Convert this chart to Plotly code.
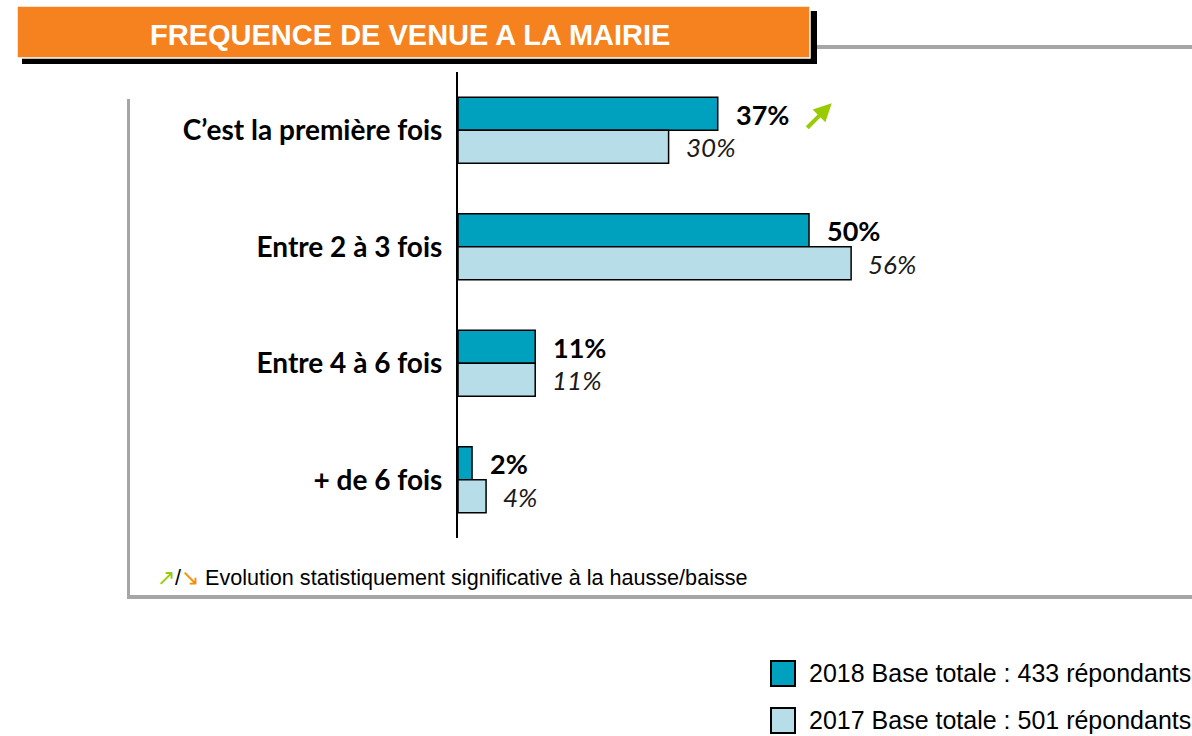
import plotly.graph_objects as go

# ---------------- data ----------------
title_text = "FREQUENCE DE VENUE A LA MAIRIE"
categories = ["C’est la première fois", "Entre 2 à 3 fois", "Entre 4 à 6 fois", "+ de 6 fois"]
values_2018 = [37, 50, 11, 2]
values_2017 = [30, 56, 11, 4]
series_names = ["2018 Base totale : 433 répondants", "2017 Base totale : 501 répondants"]
significant_up = [True, False, False, False]
footnote_text = "Evolution statistiquement significative à la hausse/baisse"

# ---------------- helpers ----------------
W, H = 1192, 736


def px(x):
    return x / W


def py(y):
    return 1 - y / H


C18 = "#00A0BF"
C17 = "#B7DEE8"
ORANGE = "#F5821F"
GREY = "#A6A6A6"
GREEN = "#99CC00"
ORANGE_ARROW = "#F39200"
LABEL_FONT = "Lato"
ARIAL = "Liberation Sans"

fig = go.Figure()
fig.add_trace(go.Bar(
    y=categories, x=values_2018, orientation="h", name=series_names[0],
    marker=dict(color=C18, line=dict(color="black", width=1.5)),
    showlegend=False, hoverinfo="x+y",
))
fig.add_trace(go.Bar(
    y=categories, x=values_2017, orientation="h", name=series_names[1],
    marker=dict(color=C17, line=dict(color="black", width=1.5)),
    showlegend=False, hoverinfo="x+y",
))

annotations = []
for cat, v in zip(categories, values_2018):
    annotations.append(dict(
        x=v, y=cat, xref="x", yref="y", text=f"<b>{v}%</b>", showarrow=False,
        xanchor="left", yanchor="middle", xshift=16, yshift=16,
        font=dict(family=LABEL_FONT, size=27, color="black"),
    ))
for cat, v in zip(categories, values_2017):
    annotations.append(dict(
        x=v, y=cat, xref="x", yref="y", text=f"<i>{v}%</i>", showarrow=False,
        xanchor="left", yanchor="middle", xshift=15, yshift=-17,
        font=dict(family=LABEL_FONT, size=26, color="#1a1a1a"),
    ))
# significance arrows
for cat, v, up in zip(categories, values_2018, significant_up):
    if up:
        annotations.append(dict(
            x=v, y=cat, xref="x", yref="y", text="", showarrow=True,
            xshift=114, yshift=27, ax=-26, ay=26, axref="pixel", ayref="pixel",
            arrowhead=2, arrowsize=0.9, arrowwidth=4, arrowcolor=GREEN, standoff=0,
        ))

# title
annotations.append(dict(
    x=px(410), y=py(35), xref="paper", yref="paper", text=f"<b>{title_text}</b>",
    showarrow=False, xanchor="center", yanchor="middle",
    font=dict(family=ARIAL, size=29, color="white"),
))
# footnote
annotations.append(dict(
    x=px(155), y=py(577), xref="paper", yref="paper",
    text=f'<span style="color:{GREEN}">↗</span>/<span style="color:{ORANGE_ARROW}">↘</span> {footnote_text}',
    showarrow=False, xanchor="left", yanchor="middle",
    font=dict(family=ARIAL, size=21.6, color="black"),
))
# legend texts
for name, yc in zip(series_names, [673, 720]):
    annotations.append(dict(
        x=px(807), y=py(yc), xref="paper", yref="paper", text=name,
        showarrow=False, xanchor="left", yanchor="middle",
        font=dict(family=ARIAL, size=25, color="black"),
    ))

shapes = [
    # banner shadow
    dict(type="rect", xref="paper", yref="paper", x0=px(22), x1=px(817), y0=py(64), y1=py(11),
         fillcolor="black", line=dict(width=0), layer="below"),
    # grey rule
    dict(type="rect", xref="paper", yref="paper", x0=px(817), x1=px(1192), y0=py(49), y1=py(45),
         fillcolor=GREY, line=dict(width=0), layer="below"),
    # orange banner
    dict(type="rect", xref="paper", yref="paper", x0=px(17), x1=px(810), y0=py(58), y1=py(6),
         fillcolor=ORANGE, line=dict(color="white", width=1.5), layer="below"),
    # content frame
    dict(type="rect", xref="paper", yref="paper", x0=px(127), x1=px(130), y0=py(599), y1=py(99),
         fillcolor=GREY, line=dict(width=0), layer="below"),
    dict(type="rect", xref="paper", yref="paper", x0=px(127), x1=px(1192), y0=py(599), y1=py(595),
         fillcolor=GREY, line=dict(width=0), layer="below"),
    # legend squares
    dict(type="rect", xref="paper", yref="paper", x0=px(771), x1=px(795), y0=py(686), y1=py(661),
         fillcolor=C18, line=dict(color="black", width=2)),
    dict(type="rect", xref="paper", yref="paper", x0=px(771), x1=px(795), y0=py(733), y1=py(708),
         fillcolor=C17, line=dict(color="black", width=2)),
]

fig.update_layout(
    width=W, height=H,
    margin=dict(l=0, r=0, t=0, b=0),
    paper_bgcolor="white", plot_bgcolor="rgba(0,0,0,0)",
    barmode="group", bargap=0.434, bargroupgap=0,
    annotations=annotations, shapes=shapes,
    xaxis=dict(domain=[px(458), px(1160)], range=[0, 100], visible=False, fixedrange=True),
    yaxis=dict(
        domain=[py(538), py(72)], autorange="reversed", showline=True, linecolor="black",
        linewidth=2, ticks="", ticklabelstandoff=8, showgrid=False, zeroline=False,
        tickfont=dict(family=LABEL_FONT, size=28, color="black", weight="bold"),
        fixedrange=True,
    ),
    showlegend=False,
)

fig.write_html(
    "out.html",
    config={"displayModeBar": False},
    post_script="document.body.style.margin='0';document.body.style.overflow='hidden';",
)
